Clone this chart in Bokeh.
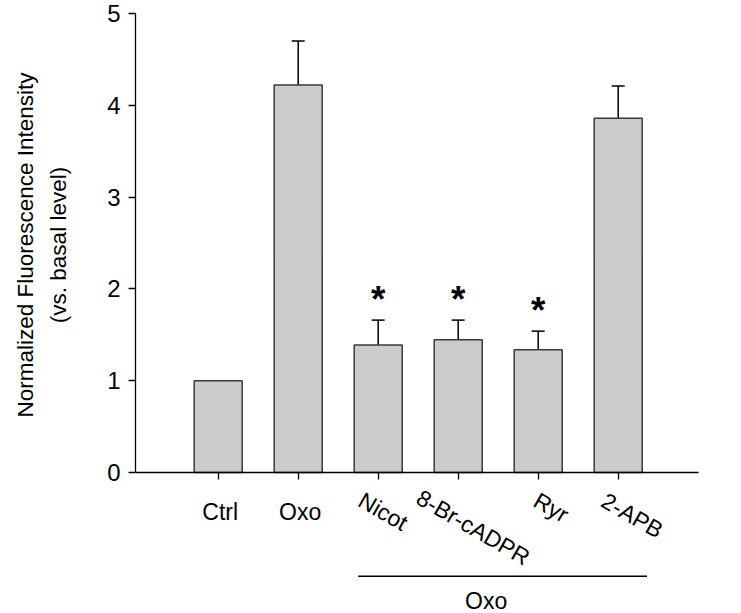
from bokeh.plotting import figure
from bokeh.models import Range1d, FixedTicker, Whisker, TeeHead, ColumnDataSource
from bokeh.core.properties import value
from bokeh.embed import file_html
from bokeh.resources import INLINE

categories = ["Ctrl", "Oxo", "Nicot", "8-Br-cADPR", "Ryr", "2-APB"]
means = [1.0, 4.22, 1.39, 1.445, 1.337, 3.86]
sem_upper = [None, 4.70, 1.66, 1.66, 1.54, 4.21]
significant = [False, False, True, True, True, False]
y_ticks = [0, 1, 2, 3, 4, 5]
group_label = "Oxo"
y_title = ["Normalized Fluorescence Intensity", "(vs. basal level)"]

FONT = value("Liberation Sans")
xs = list(range(1, len(categories) + 1))
X_AXIS_LEFT, X_AXIS_RIGHT = -0.034, 7.0

p = figure(width=741, height=613, output_backend="svg", toolbar_location=None,
           x_range=Range1d(-1.72125, 7.54125), y_range=Range1d(-1.536, 5.1416),
           min_border=0, min_border_left=0, min_border_right=0,
           min_border_top=0, min_border_bottom=0)
p.outline_line_color = None
p.xgrid.visible = False
p.ygrid.visible = False
p.background_fill_color = "white"

p.vbar(x=xs, top=means, width=0.6, bottom=0, fill_color="#cccccc",
       line_color="#3a3a3a", line_width=1.5)

# error bars (upper only)
ex = [x for x, u in zip(xs, sem_upper) if u is not None]
el = [m for m, u in zip(means, sem_upper) if u is not None]
eu = [u for u in sem_upper if u is not None]
esrc = ColumnDataSource(dict(base=ex, lower=el, upper=eu))
w = Whisker(source=esrc, base="base", lower="lower", upper="upper", dimension="height",
            line_color="black", line_width=1.5,
            upper_head=TeeHead(size=13, line_color="black", line_width=1.5), lower_head=None)
p.add_layout(w)

# significance asterisks
sx = [x for x, s in zip(xs, significant) if s]
sy = [u for u, s in zip(sem_upper, significant) if s]
p.text(x=sx, y=sy, text=["*"] * len(sx), text_align="center", text_baseline="middle",
       y_offset=-21, text_font=FONT, text_font_size="37px", text_font_style="bold",
       text_color="black")

# y axis
p.yaxis.fixed_location = X_AXIS_LEFT
p.yaxis.bounds = (0, 5)
p.yaxis.ticker = FixedTicker(ticks=y_ticks)
p.yaxis.minor_tick_line_color = None
p.yaxis.major_tick_out = 7
p.yaxis.major_tick_in = 0
p.yaxis.major_label_standoff = 8
p.yaxis.major_label_text_font = "Liberation Sans"
p.yaxis.major_label_text_font_size = "24px"
p.yaxis.major_label_text_color = "black"
p.yaxis.axis_line_color = "black"
p.yaxis.axis_line_width = 1.3
p.yaxis.major_tick_line_color = "black"
p.yaxis.major_tick_line_width = 1.3

# x axis
p.xaxis.fixed_location = 0
p.xaxis.bounds = (X_AXIS_LEFT, X_AXIS_RIGHT)
p.xaxis.ticker = FixedTicker(ticks=xs)
p.xaxis.minor_tick_line_color = None
p.xaxis.major_tick_out = 7
p.xaxis.major_tick_in = 0
p.xaxis.major_label_text_font_size = "0px"
p.xaxis.major_label_overrides = {x: "" for x in xs}
p.xaxis.axis_line_color = "black"
p.xaxis.axis_line_width = 1.3
p.xaxis.major_tick_line_color = "black"
p.xaxis.major_tick_line_width = 1.3

# y axis title (two lines)
p.text(x=[X_AXIS_LEFT] * 2, y=[2.5, 2.5], text=y_title, x_offset=[-110, -77], y_offset=[2, 2],
       angle=90, angle_units="deg", text_align="center", text_baseline="middle",
       text_font=FONT, text_font_size="22.5px", text_color="black")

# category labels
flat_x = [x for i, x in enumerate(xs) if i < 2]
flat_t = [c for i, c in enumerate(categories) if i < 2]
p.text(x=flat_x, y=[0] * len(flat_x), text=flat_t, x_offset=2, y_offset=40,
       text_align="center", text_baseline="alphabetic", text_font=FONT,
       text_font_size="23px", text_color="black")

rot_x = [x for i, x in enumerate(xs) if i >= 2]
rot_t = [c for i, c in enumerate(categories) if i >= 2]
rot_dx = [5, 15, 13, 14]
rot_dy = [39, 55, 35, 43]
p.text(x=rot_x, y=[0] * len(rot_x), text=rot_t, x_offset=rot_dx, y_offset=rot_dy,
       angle=-30, angle_units="deg",
       text_align="center", text_baseline="middle", text_font=FONT,
       text_font_size="23px", text_color="black")

# group bracket line and label
p.segment(x0=[xs[2] - 0.25], x1=[xs[5] + 0.36], y0=[-1.13], y1=[-1.13],
          line_color="black", line_width=1.3)
p.text(x=[(xs[2] + xs[5]) / 2], y=[-1.13], text=[group_label], x_offset=-12, y_offset=25,
       text_align="center", text_baseline="middle", text_font=FONT,
       text_font_size="23px", text_color="black")

open("out.html", "w").write(file_html(p, INLINE))
